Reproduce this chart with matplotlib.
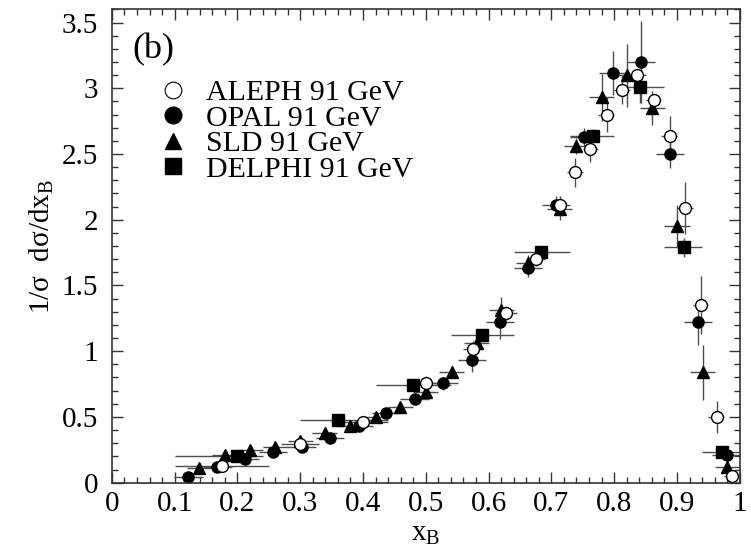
import matplotlib
matplotlib.use("Agg")
import matplotlib.pyplot as plt
from matplotlib.lines import Line2D
from matplotlib.ticker import MultipleLocator, FormatStrFormatter
import numpy as np

# === STYLE ===
plt.rcParams['font.family'] = ['Liberation Serif', 'DejaVu Serif']
plt.rcParams['mathtext.fontset'] = 'custom'
plt.rcParams['mathtext.rm'] = 'Liberation Serif'
plt.rcParams['mathtext.it'] = 'Liberation Serif:italic'

# === DATA (x, y, bin low, bin high, y error) ===
aleph_x = [0.176, 0.299, 0.400, 0.500, 0.575, 0.627, 0.675, 0.714, 0.737, 0.762,
           0.788, 0.812, 0.837, 0.864, 0.889, 0.913, 0.938, 0.963, 0.988]
aleph_y = [0.124, 0.295, 0.465, 0.755, 1.02, 1.29, 1.70, 2.11, 2.36, 2.54,
           2.80, 2.99, 3.10, 2.91, 2.64, 2.09, 1.35, 0.50, 0.05]
aleph_lo = [0.10, 0.27, 0.36, 0.47, 0.56, 0.61, 0.66, 0.70, 0.725, 0.75,
            0.775, 0.80, 0.825, 0.85, 0.875, 0.90, 0.925, 0.95, 0.975]
aleph_hi = [0.25, 0.33, 0.44, 0.53, 0.59, 0.645, 0.69, 0.725, 0.75, 0.775,
            0.80, 0.825, 0.85, 0.875, 0.90, 0.925, 0.95, 0.975, 1.0]
aleph_ey = [0.01, 0.02, 0.02, 0.06, 0.06, 0.05, 0.05, 0.07, 0.11, 0.10,
            0.13, 0.11, 0.05, 0.05, 0.15, 0.20, 0.22, 0.12, 0.02]

opal_x = [0.122, 0.168, 0.212, 0.257, 0.302, 0.347, 0.394, 0.437, 0.482, 0.528,
          0.573, 0.618, 0.663, 0.707, 0.752, 0.798, 0.843, 0.889, 0.934, 0.979]
opal_y = [0.04, 0.12, 0.18, 0.23, 0.275, 0.34, 0.43, 0.53, 0.64, 0.755,
          0.93, 1.22, 1.635, 2.11, 2.63, 3.115, 3.20, 2.50, 1.22, 0.21]
opal_ey = [0.01, 0.01, 0.015, 0.015, 0.02, 0.02, 0.02, 0.02, 0.03, 0.05,
           0.09, 0.13, 0.07, 0.07, 0.07, 0.17, 0.31, 0.11, 0.17, 0.04]
opal_ex = 0.0225

sld_x = [0.139, 0.180, 0.220, 0.260, 0.300, 0.339, 0.380, 0.420, 0.459, 0.500, 0.541,
         0.581, 0.620, 0.663, 0.713, 0.740, 0.780, 0.820, 0.861, 0.900, 0.941, 0.980]
sld_y = [0.11, 0.21, 0.25, 0.27, 0.315, 0.375, 0.43, 0.50, 0.575, 0.69, 0.84,
         1.06, 1.31, 1.67, 2.08, 2.56, 2.93, 3.10, 2.85, 1.95, 0.84, 0.12]
sld_ey = [0.01, 0.01, 0.01, 0.015, 0.02, 0.02, 0.02, 0.02, 0.02, 0.03, 0.03,
          0.05, 0.10, 0.06, 0.08, 0.06, 0.18, 0.24, 0.13, 0.16, 0.21, 0.06]
sld_ex = 0.02

delphi_x = [0.200, 0.360, 0.480, 0.590, 0.684, 0.766, 0.841, 0.911, 0.971]
delphi_y = [0.20, 0.48, 0.745, 1.125, 1.755, 2.64, 3.01, 1.79, 0.235]
delphi_lo = [0.10, 0.30, 0.42, 0.54, 0.64, 0.73, 0.82, 0.88, 0.94]
delphi_hi = [0.24, 0.44, 0.54, 0.64, 0.73, 0.80, 0.88, 0.94, 1.0]
delphi_ey = [0.01, 0.02, 0.03, 0.04, 0.04, 0.05, 0.12, 0.07, 0.03]

labels = ["ALEPH 91 GeV", "OPAL 91 GeV", "SLD 91 GeV", "DELPHI 91 GeV"]

# === PLOT ===
fig = plt.figure(figsize=(7.51, 5.51), dpi=100)
ax = fig.add_axes([0.149, 0.124, 0.836, 0.859])

err_kw = dict(ls='none', ecolor='0.3', elinewidth=1.0, capsize=0)

def asym(x, lo, hi):
    x = np.array(x)
    return [x - np.array(lo), np.array(hi) - x]

ax.errorbar(opal_x, opal_y, xerr=opal_ex, yerr=opal_ey, marker='o', ms=8,
            mfc='black', mec='black', **err_kw)
ax.errorbar(sld_x, sld_y, xerr=sld_ex, yerr=sld_ey, marker='^', ms=8,
            mfc='black', mec='black', **err_kw)
ax.errorbar(delphi_x, delphi_y, xerr=asym(delphi_x, delphi_lo, delphi_hi),
            yerr=delphi_ey, marker='s', ms=8, mfc='black', mec='black', **err_kw)
ax.errorbar(aleph_x, aleph_y, xerr=asym(aleph_x, aleph_lo, aleph_hi),
            yerr=aleph_ey, marker='o', ms=8.5, mfc='white', mec='black',
            mew=1.0, **err_kw)

ax.set_xlim(0, 1)
ax.set_ylim(0, 3.6)
ax.xaxis.set_major_locator(MultipleLocator(0.1))
ax.xaxis.set_minor_locator(MultipleLocator(0.02))
ax.yaxis.set_major_locator(MultipleLocator(0.5))
ax.yaxis.set_minor_locator(MultipleLocator(0.1))
ax.xaxis.set_major_formatter(FormatStrFormatter('%g'))
ax.yaxis.set_major_formatter(FormatStrFormatter('%g'))
ax.tick_params(which='both', direction='in', top=True, right=True,
               width=1.0, color='0.2', labelsize=21)
ax.tick_params(which='major', length=8)
ax.tick_params(which='minor', length=4)
ax.tick_params(axis='x', which='major', pad=6)
ax.tick_params(axis='y', which='major', pad=10)
for s in ax.spines.values():
    s.set_linewidth(1.2)
    s.set_color('0.2')

ax.set_xlabel('x$_\\mathrm{B}$', fontsize=21, labelpad=3)
ax.set_ylabel('1/σ  dσ/dx$_\\mathrm{B}$', fontsize=21, labelpad=4)

ax.text(0.033, 0.915, '(b)', transform=ax.transAxes, fontsize=26,
        va='center', ha='left')

handles = [
    Line2D([], [], ls='none', marker='o', ms=12, mfc='white', mec='black', mew=0.8),
    Line2D([], [], ls='none', marker='o', ms=12, mfc='black', mec='black'),
    Line2D([], [], ls='none', marker='^', ms=12, mfc='black', mec='black'),
    Line2D([], [], ls='none', marker='s', ms=12, mfc='black', mec='black'),
]
ax.legend(handles, labels, loc='upper left', bbox_to_anchor=(0.074, 0.852),
          frameon=False, fontsize=21.5, handlelength=1.0, handletextpad=0.6,
          labelspacing=-0.05, borderpad=0.0, borderaxespad=0.0)

plt.savefig('out.png', dpi=100)
